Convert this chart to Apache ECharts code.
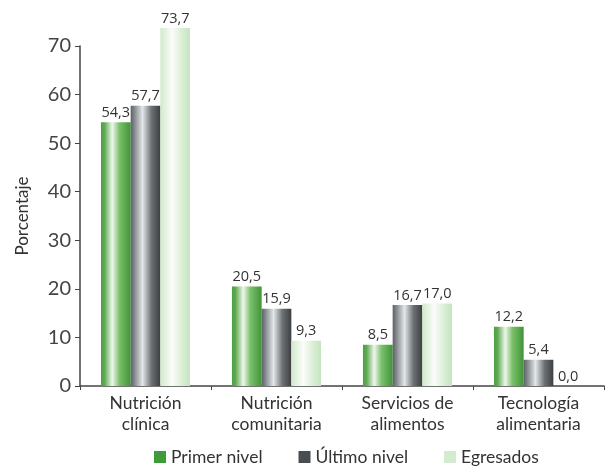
<!DOCTYPE html>
<html>
<head>
<meta charset="utf-8">
<script src="https://cdn.jsdelivr.net/npm/echarts@6/dist/echarts.min.js"></script>
<style>
  html, body { margin: 0; padding: 0; background: #fff; }
  #chart { width: 606px; height: 467px; }
</style>
</head>
<body>
<div id="chart"></div>
<script>
// datos de la gráfica
var categorias = ['Nutrición\nclínica', 'Nutrición\ncomunitaria', 'Servicios de\nalimentos', 'Tecnología\nalimentaria'];
var primerNivel = [54.3, 20.5, 8.5, 12.2];
var ultimoNivel = [57.7, 15.9, 16.7, 5.4];
var egresados = [73.7, 9.3, 17.0, 0.0];
var yTicks = [0, 10, 20, 30, 40, 50, 60, 70];

function grad(stops) {
  return new echarts.graphic.LinearGradient(0, 0, 1, 0, stops.map(function (s) {
    return { offset: s[0], color: s[1] };
  }));
}

var verde = grad([[0, '#4f9f44'], [0.12, '#5eaa52'], [0.38, '#eef7ec'], [0.62, '#7cc06c'], [1, '#3f9436']]);
var gris = grad([[0, '#5c6164'], [0.12, '#80868a'], [0.4, '#e3e7e9'], [0.7, '#6c7174'], [1, '#3c3f42']]);
var claro = grad([[0, '#d0e9cb'], [0.4, '#fbfdfa'], [0.8, '#d3ebce'], [1, '#c6e4c0']]);

var chart = echarts.init(document.getElementById('chart'));

function etiqueta(p) {
  return p.value.toFixed(1).replace('.', ',');
}

var fuente = 'Lato, "Open Sans", sans-serif';

var labelStyle = {
  show: true,
  position: 'top',
  distance: 2,
  formatter: etiqueta,
  color: '#333',
  fontSize: 14.5,
  fontFamily: '"Liberation Sans Narrow", "Open Sans", sans-serif'
};

var option = {
  animation: false,
  grid: { left: 80, right: 2, top: 46, bottom: 81 },
  legend: {
    bottom: -4,
    left: 149,
    itemWidth: 12,
    itemHeight: 12,
    itemGap: 36,
    icon: 'rect',
    textStyle: { fontSize: 17.5, color: '#333', fontFamily: fuente },
    data: [
      { name: 'Primer nivel', itemStyle: { color: '#3f9a3a' } },
      { name: 'Último nivel', itemStyle: { color: '#4a4d50' } },
      { name: 'Egresados', itemStyle: { color: '#d3ebce' } }
    ]
  },
  xAxis: {
    type: 'category',
    data: categorias,
    axisLine: { lineStyle: { color: '#444', width: 1.5 } },
    axisTick: { show: true, inside: false, length: 4, lineStyle: { color: '#444' } },
    axisLabel: {
      color: '#333',
      fontSize: 17.5,
      lineHeight: 21,
      margin: 7,
      fontFamily: fuente
    }
  },
  yAxis: {
    type: 'value',
    min: yTicks[0],
    max: yTicks[yTicks.length - 1],
    interval: 10,
    name: 'Porcentaje',
    nameLocation: 'middle',
    nameGap: 49,
    nameTextStyle: { fontSize: 17, color: '#333', fontFamily: fuente },
    axisLine: { show: true, lineStyle: { color: '#444', width: 1.5 } },
    axisTick: { show: true, length: 5, lineStyle: { color: '#444' } },
    splitLine: { show: false },
    axisLabel: {
      color: '#444',
      fontSize: 20,
      margin: 9,
      fontFamily: fuente
    }
  },
  series: [
    {
      name: 'Primer nivel', type: 'bar', data: primerNivel, clip: false,
      barGap: '0%', barCategoryGap: '32%',
      itemStyle: { color: verde }, label: labelStyle
    },
    {
      name: 'Último nivel', type: 'bar', data: ultimoNivel, clip: false,
      itemStyle: { color: gris }, label: labelStyle
    },
    {
      name: 'Egresados', type: 'bar', data: egresados, clip: false,
      itemStyle: { color: claro }, label: labelStyle
    }
  ]
};

chart.setOption(option);
</script>
</body>
</html>
